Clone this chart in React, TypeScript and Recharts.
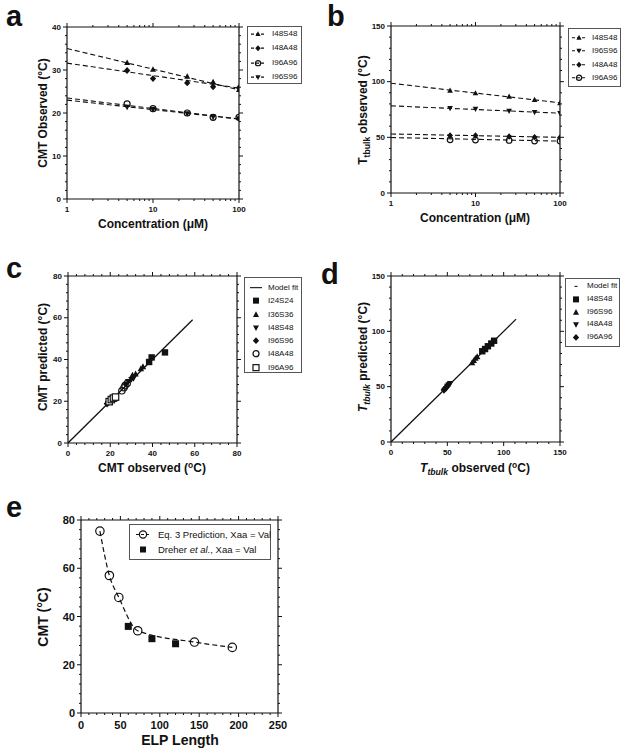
import React from "react";
import { ComposedChart, Scatter, Line, XAxis, YAxis, Legend } from "recharts";

const FONT = "Arial, 'Liberation Sans', Helvetica, sans-serif";
const INK = "#111";

// panel a / b: concentration series
const concentrations = [5, 10, 25, 50, 100];
const fitRange = [1, 100];

const cmtI48S48 = [31.7, 30.1, 28.5, 27.2, 25.4];
const cmtI48A48 = [29.9, 28.0, 27.0, 26.1, 25.9];
const cmtI96A96 = [22.1, 21.0, 20.0, 19.0, 19.0];
const cmtI96S96 = [21.4, 20.9, 19.9, 19.1, 18.7];
const cmtFitI48S48 = [35.0, 25.4];
const cmtFitI48A48 = [31.6, 25.8];
const cmtFitI96A96 = [23.5, 18.6];
const cmtFitI96S96 = [23.0, 18.6];

const ttI48S48 = [92.0, 89.6, 86.6, 83.7, 80.7];
const ttI96S96 = [76.2, 75.6, 73.8, 72.6, 71.7];
const ttI48A48 = [51.7, 51.7, 50.8, 50.2, 49.9];
const ttI96A96 = [47.8, 47.5, 47.2, 46.6, 46.6];
const ttFitI48S48 = [98.6, 81.0];
const ttFitI96S96 = [78.3, 71.7];
const ttFitI48A48 = [53.0, 50.0];
const ttFitI96A96 = [49.8, 46.6];

// panel c: CMT observed vs predicted
const cFitX = [0, 59];
const cI24S24Obs = [38.4, 39.6, 45.9];
const cI24S24Pred = [38.8, 41.0, 43.4];
const cI36S36Obs = [30.5, 32.0, 34.5, 35.5];
const cI36S36Pred = [32.5, 33.0, 35.5, 36.5];
const cI48S48Obs = [27.5, 28.5, 30.0, 31.0];
const cI48S48Pred = [28.0, 29.5, 30.5, 31.0];
const cI96S96Obs = [18.5, 19.0, 19.5, 20.5, 21.0];
const cI96S96Pred = [18.8, 19.6, 20.2, 20.8, 21.2];
const cI48A48Obs = [25.5, 26.5, 27.0, 28.0];
const cI48A48Pred = [25.0, 26.5, 27.5, 28.5];
const cI96A96Obs = [19.5, 20.5, 21.5, 22.5];
const cI96A96Pred = [19.8, 20.8, 21.5, 22.0];

// panel d: Ttbulk observed vs predicted
const dFitX = [0, 111];
const dI48S48Obs = [81, 83.5, 86, 89, 91.5];
const dI48S48Pred = [82, 84, 86.5, 89, 91.5];
const dI96S96Obs = [72, 73.5, 75, 76.5];
const dI96S96Pred = [71.5, 73.5, 75.5, 77];
const dI48A48Obs = [50, 51, 52, 52.5];
const dI48A48Pred = [50.5, 51.5, 52, 53];
const dI96A96Obs = [47, 47.5, 48.5, 49];
const dI96A96Pred = [47, 48, 48.5, 49.5];

// panel e: CMT vs ELP length
const elpLength = [24, 36, 48, 72, 144, 192];
const eqPrediction = [75.4, 57.0, 47.9, 34.1, 29.4, 27.2];
const dreherLength = [60, 90, 120];
const dreherCmt = [35.9, 30.8, 28.7];

// ticks
const logTicks = [1, 2, 3, 4, 5, 6, 7, 8, 9, 10, 20, 30, 40, 50, 60, 70, 80, 90, 100];
const logMajors = [1, 10, 100];
const aMajors = [0, 10, 20, 30, 40];
const bMajors = [0, 50, 100, 150];
const cMajors = [0, 20, 40, 60, 80];
const dMajors = [0, 50, 100, 150];
const eXMajors = [0, 50, 100, 150, 200, 250];
const eYMajors = [0, 20, 40, 60, 80];

const minor = (lo: number, hi: number, step: number) => {
  const out: number[] = [];
  for (let v = lo; v <= hi + 1e-9; v += step) out.push(Math.round(v * 1000) / 1000);
  return out;
};

const xy = (xs: number[], ys: number[]) => xs.map((x, i) => ({ x, y: ys[i] }));

type Kind = "up" | "down" | "diamond" | "square" | "openCircle" | "openSquare";

function Marker({ kind, cx, cy, s }: { kind: Kind; cx: number; cy: number; s: number }) {
  switch (kind) {
    case "up":
      return <polygon points={`${cx},${cy - s * 1.1} ${cx + s},${cy + s * 0.75} ${cx - s},${cy + s * 0.75}`} fill={INK} />;
    case "down":
      return <polygon points={`${cx},${cy + s * 1.1} ${cx + s},${cy - s * 0.75} ${cx - s},${cy - s * 0.75}`} fill={INK} />;
    case "diamond":
      return <polygon points={`${cx},${cy - s * 1.15} ${cx + s * 1.05},${cy} ${cx},${cy + s * 1.15} ${cx - s * 1.05},${cy}`} fill={INK} />;
    case "square":
      return <rect x={cx - s} y={cy - s} width={2 * s} height={2 * s} fill={INK} />;
    case "openCircle":
      return <circle cx={cx} cy={cy} r={s} fill="none" stroke={INK} strokeWidth={1.2} />;
    case "openSquare":
      return <rect x={cx - s} y={cy - s} width={2 * s} height={2 * s} fill="#fff" stroke={INK} strokeWidth={1.2} />;
  }
  return null;
}

const shapeOf = (kind: Kind, s: number) => (p: any) => <Marker kind={kind} cx={p.cx} cy={p.cy} s={s} />;

type Side = "left" | "right" | "top" | "bottom";

function tickFor(side: Side, majors: number[], fs: number, labels: boolean) {
  return (p: any) => {
    const v = p.payload.value;
    const major = majors.some((m) => Math.abs(m - v) < 1e-6);
    const L = major ? 4 : 2;
    const { x, y } = p;
    let ln: React.ReactNode = null;
    let tx: React.ReactNode = null;
    const textStyle = { fontFamily: FONT, fontSize: fs, fontWeight: 700, fill: INK };
    if (side === "left") {
      ln = <line x1={x - L} x2={x} y1={y} y2={y} />;
      if (labels && major)
        tx = <text x={x - 6} y={y} textAnchor="end" dominantBaseline="central" style={textStyle}>{v}</text>;
    } else if (side === "right") {
      ln = <line x1={x} x2={x + L} y1={y} y2={y} />;
    } else if (side === "top") {
      ln = <line x1={x} x2={x} y1={y - L} y2={y} />;
    } else {
      ln = <line x1={x} x2={x} y1={y} y2={y + L} />;
      if (labels && major)
        tx = <text x={x} y={y + 6 + fs * 0.5} textAnchor="middle" dominantBaseline="central" style={textStyle}>{v}</text>;
    }
    return (
      <g>
        <g stroke={INK} strokeWidth={1}>{ln}</g>
        {tx}
      </g>
    );
  };
}

// each axis takes 1px of room, so that recharts draws it
function frame(o: {
  xDomain: [number, number];
  yDomain: [number, number];
  xTicks: number[];
  yTicks: number[];
  xMajors: number[];
  yMajors: number[];
  log?: boolean;
  fs: number;
}) {
  const common = {
    tickLine: false,
    tickSize: 0,
    tickMargin: 0,
    interval: 0 as const,
    axisLine: { stroke: INK, strokeWidth: 1.2 },
    allowDataOverflow: true,
  };
  const scale = o.log ? "log" : "linear";
  return [
    <XAxis key="xb" xAxisId="b" dataKey="x" type="number" scale={scale} domain={o.xDomain} ticks={o.xTicks} height={1}
      tick={tickFor("bottom", o.xMajors, o.fs, true)} {...common} />,
    <XAxis key="xt" xAxisId="t" orientation="top" dataKey="x" type="number" scale={scale} domain={o.xDomain} ticks={o.xTicks} height={1}
      tick={tickFor("top", o.xMajors, o.fs, false)} {...common} />,
    <YAxis key="yl" yAxisId="l" dataKey="y" type="number" domain={o.yDomain} ticks={o.yTicks} width={1}
      tick={tickFor("left", o.yMajors, o.fs, true)} {...common} />,
    <YAxis key="yr" yAxisId="r" orientation="right" dataKey="y" type="number" domain={o.yDomain} ticks={o.yTicks} width={1}
      tick={tickFor("right", o.yMajors, o.fs, false)} {...common} />,
  ];
}

type Box = { left: number; top: number; w: number; h: number };

function Panel({ box, plot, children }: { box: Box; plot: [number, number, number, number]; children: React.ReactNode }) {
  const margin = {
    left: plot[0] - box.left - 1,
    top: plot[1] - box.top - 1,
    right: box.left + box.w - plot[2] - 1,
    bottom: box.top + box.h - plot[3] - 1,
  };
  return (
    <div style={{ position: "absolute", left: box.left, top: box.top }}>
      <ComposedChart width={box.w} height={box.h} margin={margin}>
        {children}
      </ComposedChart>
    </div>
  );
}

type Row = { label: React.ReactNode; kind?: Kind; s?: number; line?: "dash" | "solid" | "dot" };

function LegendBox(props: { rows: Row[]; w: number; h: number; padTop: number; rowH: number; markCx: number; markW: number; textX: number; fs: number }) {
  const { rows, w, h, padTop, rowH, markCx, markW, textX, fs } = props;
  return (
    <div style={{ width: w, height: h, boxSizing: "border-box", border: "1px solid #555", background: "#fff", paddingTop: padTop, fontFamily: FONT, fontSize: fs, color: INK }}>
      {rows.map((r, i) => (
        <div key={i} style={{ position: "relative", height: rowH, lineHeight: rowH + "px", whiteSpace: "nowrap" }}>
          <svg width={textX} height={rowH} style={{ position: "absolute", left: 0, top: 0 }}>
            {r.line && (
              <line
                x1={r.line === "dot" ? markCx - 1.5 : markCx - markW / 2}
                x2={r.line === "dot" ? markCx + 1.5 : markCx + markW / 2}
                y1={rowH / 2}
                y2={rowH / 2}
                stroke={INK}
                strokeWidth={1.1}
                strokeDasharray={r.line === "dash" ? "3 2" : undefined}
              />
            )}
            {r.kind && <Marker kind={r.kind} cx={markCx} cy={rowH / 2} s={r.s ?? 3} />}
          </svg>
          <span style={{ position: "absolute", left: textX, top: 0 }}>{r.label}</span>
        </div>
      ))}
    </div>
  );
}

const legendAt = (left: number, top: number, node: React.ReactNode) => (
  <Legend layout="vertical" align="center" verticalAlign="middle" wrapperStyle={{ left, top }} content={() => node} />
);

const seriesA: { name: string; kind: Kind; ys: number[]; fit: number[] }[] = [
  { name: "I48S48", kind: "up", ys: cmtI48S48, fit: cmtFitI48S48 },
  { name: "I48A48", kind: "diamond", ys: cmtI48A48, fit: cmtFitI48A48 },
  { name: "I96A96", kind: "openCircle", ys: cmtI96A96, fit: cmtFitI96A96 },
  { name: "I96S96", kind: "down", ys: cmtI96S96, fit: cmtFitI96S96 },
];

const seriesB: { name: string; kind: Kind; ys: number[]; fit: number[] }[] = [
  { name: "I48S48", kind: "up", ys: ttI48S48, fit: ttFitI48S48 },
  { name: "I96S96", kind: "down", ys: ttI96S96, fit: ttFitI96S96 },
  { name: "I48A48", kind: "diamond", ys: ttI48A48, fit: ttFitI48A48 },
  { name: "I96A96", kind: "openCircle", ys: ttI96A96, fit: ttFitI96A96 },
];

const seriesC: { name: string; kind: Kind; obs: number[]; pred: number[] }[] = [
  { name: "I24S24", kind: "square", obs: cI24S24Obs, pred: cI24S24Pred },
  { name: "I36S36", kind: "up", obs: cI36S36Obs, pred: cI36S36Pred },
  { name: "I48S48", kind: "down", obs: cI48S48Obs, pred: cI48S48Pred },
  { name: "I96S96", kind: "diamond", obs: cI96S96Obs, pred: cI96S96Pred },
  { name: "I48A48", kind: "openCircle", obs: cI48A48Obs, pred: cI48A48Pred },
  { name: "I96A96", kind: "openSquare", obs: cI96A96Obs, pred: cI96A96Pred },
];

const seriesD: { name: string; kind: Kind; obs: number[]; pred: number[] }[] = [
  { name: "I48S48", kind: "square", obs: dI48S48Obs, pred: dI48S48Pred },
  { name: "I96S96", kind: "up", obs: dI96S96Obs, pred: dI96S96Pred },
  { name: "I48A48", kind: "down", obs: dI48A48Obs, pred: dI48A48Pred },
  { name: "I96A96", kind: "diamond", obs: dI96A96Obs, pred: dI96A96Pred },
];

const ids = { xAxisId: "b", yAxisId: "l" };

function Title({ x, y, size = 12, rotate = false, children }: { x: number; y: number; size?: number; rotate?: boolean; children: React.ReactNode }) {
  return (
    <div
      style={{
        position: "absolute",
        left: x,
        top: y,
        transform: `translate(-50%, -50%)${rotate ? " rotate(-90deg)" : ""}`,
        whiteSpace: "nowrap",
        fontSize: size,
        fontWeight: 700,
        lineHeight: 1,
        color: INK,
      }}
    >
      {children}
    </div>
  );
}

function Letter({ x, y, ch }: { x: number; y: number; ch: string }) {
  return <div style={{ position: "absolute", left: x, top: y, fontSize: 29, fontWeight: 700, lineHeight: "33px", color: INK }}>{ch}</div>;
}

const sup = (t: string) => <sup style={{ fontSize: "0.7em", verticalAlign: "0.45em", lineHeight: 0 }}>{t}</sup>;
const tSub = (italic: boolean) => (
  <>
    <span style={{ fontStyle: italic ? "italic" : "normal" }}>T</span>
    <sub style={{ fontSize: "0.72em", verticalAlign: "-0.3em", lineHeight: 0, fontStyle: italic ? "italic" : "normal" }}>tbulk</sub>
  </>
);

export default function App() {
  return (
    <div style={{ position: "absolute", left: 0, top: 0, width: 626, height: 750, background: "#fff", fontFamily: FONT, overflow: "hidden" }}>
      {/* a */}
      <Panel box={{ left: 0, top: 0, w: 313, h: 215 }} plot={[67, 27, 239, 199]}>
        {frame({ xDomain: [1, 100], yDomain: [0, 40], xTicks: logTicks, yTicks: minor(0, 40, 2), xMajors: logMajors, yMajors: aMajors, log: true, fs: 8 })}
        {seriesA.map((s) => (
          <Line key={s.name + "fit"} {...ids} data={xy(fitRange, s.fit)} dataKey="y" stroke={INK} strokeWidth={1.1}
            strokeDasharray="5 3" dot={false} isAnimationActive={false} legendType="none" />
        ))}
        {seriesA.map((s) => (
          <Scatter key={s.name} name={s.name} {...ids} data={xy(concentrations, s.ys)} shape={shapeOf(s.kind, 3)} isAnimationActive={false} />
        ))}
        {legendAt(247, 26, (
          <LegendBox w={55} h={58} padTop={0} rowH={14.3} markCx={10} markW={14} textX={24} fs={8}
            rows={seriesA.map((s) => ({ label: s.name, kind: s.kind, s: 2.6, line: "dash" as const }))} />
        ))}
      </Panel>

      {/* b */}
      <Panel box={{ left: 313, top: 0, w: 313, h: 215 }} plot={[391, 26, 560, 193]}>
        {frame({ xDomain: [1, 100], yDomain: [0, 150], xTicks: logTicks, yTicks: minor(0, 150, 10), xMajors: logMajors, yMajors: bMajors, log: true, fs: 8 })}
        {seriesB.map((s) => (
          <Line key={s.name + "fit"} {...ids} data={xy(fitRange, s.fit)} dataKey="y" stroke={INK} strokeWidth={1.1}
            strokeDasharray="5 3" dot={false} isAnimationActive={false} legendType="none" />
        ))}
        {seriesB.map((s) => (
          <Scatter key={s.name} name={s.name} {...ids} data={xy(concentrations, s.ys)} shape={shapeOf(s.kind, 2.8)} isAnimationActive={false} />
        ))}
        {legendAt(255, 28, (
          <LegendBox w={53} h={59} padTop={2} rowH={13.4} markCx={10} markW={14} textX={23} fs={8}
            rows={seriesB.map((s) => ({ label: s.name, kind: s.kind, s: 2.6, line: "dash" as const }))} />
        ))}
      </Panel>

      {/* c */}
      <Panel box={{ left: 0, top: 250, w: 313, h: 215 }} plot={[68, 276, 237, 443]}>
        {frame({ xDomain: [0, 80], yDomain: [0, 80], xTicks: minor(0, 80, 4), yTicks: minor(0, 80, 4), xMajors: cMajors, yMajors: cMajors, fs: 8 })}
        <Line {...ids} data={xy(cFitX, cFitX)} dataKey="y" stroke={INK} strokeWidth={1.3} dot={false} isAnimationActive={false} legendType="none" />
        {seriesC.map((s) => (
          <Scatter key={s.name} name={s.name} {...ids} data={xy(s.obs, s.pred)} shape={shapeOf(s.kind, 3.2)} isAnimationActive={false} />
        ))}
        {legendAt(244, 27, (
          <LegendBox w={58} h={96} padTop={3} rowH={13.3} markCx={11} markW={12} textX={23} fs={8}
            rows={[{ label: "Model fit", line: "solid" as const }, ...seriesC.map((s) => ({ label: s.name, kind: s.kind, s: 3 }))]} />
        ))}
      </Panel>

      {/* d */}
      <Panel box={{ left: 313, top: 250, w: 313, h: 215 }} plot={[391, 276, 560, 442]}>
        {frame({ xDomain: [0, 150], yDomain: [0, 150], xTicks: minor(0, 150, 10), yTicks: minor(0, 150, 10), xMajors: dMajors, yMajors: dMajors, fs: 8 })}
        <Line {...ids} data={xy(dFitX, dFitX)} dataKey="y" stroke={INK} strokeWidth={1.3} dot={false} isAnimationActive={false} legendType="none" />
        {seriesD.map((s) => (
          <Scatter key={s.name} name={s.name} {...ids} data={xy(s.obs, s.pred)} shape={shapeOf(s.kind, 3.2)} isAnimationActive={false} />
        ))}
        {legendAt(252, 28, (
          <LegendBox w={55} h={69} padTop={1} rowH={12.8} markCx={10} markW={12} textX={21} fs={8}
            rows={[{ label: "Model fit", line: "dot" as const }, ...seriesD.map((s) => ({ label: s.name, kind: s.kind, s: 3 }))]} />
        ))}
      </Panel>

      {/* e */}
      <Panel box={{ left: 0, top: 495, w: 313, h: 240 }} plot={[81, 520, 278, 713]}>
        {frame({ xDomain: [0, 250], yDomain: [0, 80], xTicks: minor(0, 250, 10), yTicks: minor(0, 80, 4), xMajors: eXMajors, yMajors: eYMajors, fs: 11 })}
        <Line {...ids} type="monotone" data={xy(elpLength, eqPrediction)} dataKey="y" stroke={INK} strokeWidth={1.2}
          strokeDasharray="5 3" dot={false} isAnimationActive={false} legendType="none" />
        <Scatter name="Eq. 3 Prediction, Xaa = Val" {...ids} data={xy(elpLength, eqPrediction)} shape={shapeOf("openCircle", 4.2)} isAnimationActive={false} />
        <Scatter name="Dreher et al., Xaa = Val" {...ids} data={xy(dreherLength, dreherCmt)} shape={shapeOf("square", 3.5)} isAnimationActive={false} />
        {legendAt(129, 29, (
          <LegendBox w={142} h={36} padTop={2} rowH={15} markCx={13} markW={14} textX={28} fs={9.5}
            rows={[
              { label: "Eq. 3 Prediction, Xaa = Val", kind: "openCircle", s: 3.6, line: "dash" },
              { label: <>Dreher <i>et al.</i>, Xaa = Val</>, kind: "square", s: 3 },
            ]} />
        ))}
      </Panel>

      {/* panel letters */}
      <Letter x={6} y={0} ch="a" />
      <Letter x={327} y={0} ch="b" />
      <Letter x={6} y={252} ch="c" />
      <Letter x={321} y={258} ch="d" />
      <Letter x={6} y={491} ch="e" />

      {/* axis titles */}
      <Title x={153} y={224}>Concentration (μM)</Title>
      <Title x={43} y={113} rotate>CMT Observed (°C)</Title>
      <Title x={475} y={218}>Concentration (μM)</Title>
      <Title x={363} y={110} rotate>{tSub(false)} observed (°C)</Title>
      <Title x={152} y={468}>CMT observed ({sup("o")}C)</Title>
      <Title x={43} y={357} rotate>CMT predicted (°C)</Title>
      <Title x={475} y={468}>{tSub(true)} observed ({sup("o")}C)</Title>
      <Title x={363} y={357} rotate>{tSub(true)} predicted (°C)</Title>
      <Title x={180} y={740} size={14}>ELP Length</Title>
      <Title x={43} y={617} size={14} rotate>CMT (°C)</Title>
    </div>
  );
}
